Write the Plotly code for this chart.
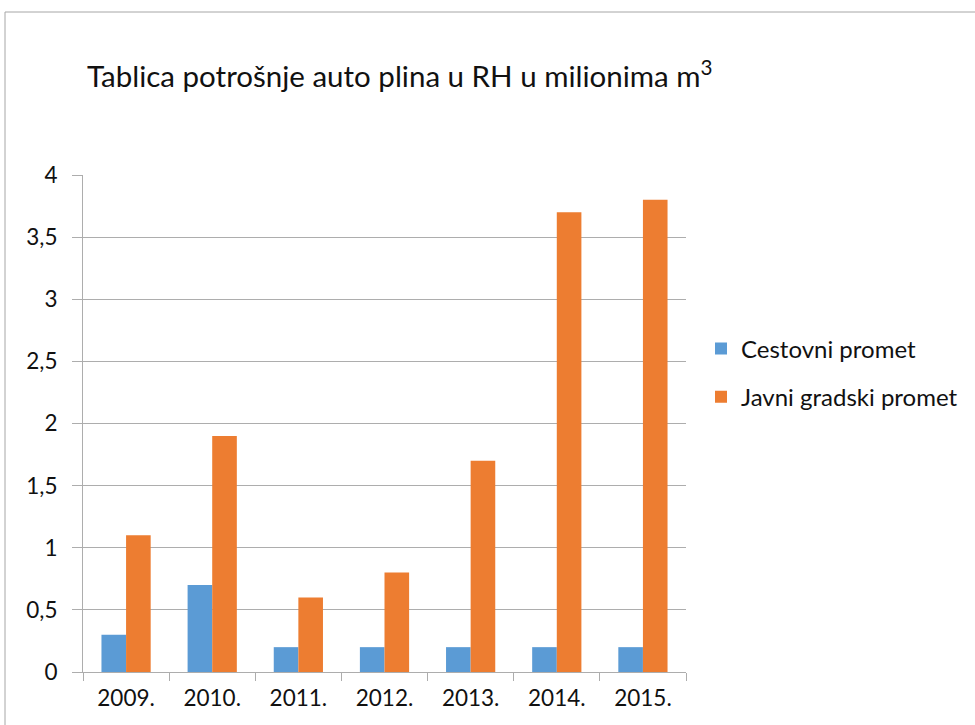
import plotly.graph_objects as go

years = ["2009.", "2010.", "2011.", "2012.", "2013.", "2014.", "2015."]
cestovni = [0.3, 0.7, 0.2, 0.2, 0.2, 0.2, 0.2]
javni = [1.1, 1.9, 0.6, 0.8, 1.7, 3.7, 3.8]
series_names = ["Cestovni promet", "Javni gradski promet"]
title_text = "Tablica potrošnje auto plina u RH u milionima m<sup>3</sup>"

W, H = 975, 725
L, R, T, B = 83, 686, 175, 672
pw, ph = R - L, B - T

def px_x(p):
    return (p - L) / pw

def px_y(p):
    return (B - p) / ph

FONT = "Lato"
grid = "#ADADAD"
txt = "#111111"

fig = go.Figure()
fig.add_trace(go.Bar(x=years, y=cestovni, name=series_names[0],
                     marker=dict(color="#5B9BD5", line=dict(width=0)),
                     legendgroup="a"))
fig.add_trace(go.Bar(x=years, y=javni, name=series_names[1],
                     marker=dict(color="#ED7D31", line=dict(width=0)),
                     legendgroup="b"))

fig.update_layout(
    width=W, height=H,
    margin=dict(l=L, r=W - R, t=T, b=H - B, autoexpand=False),
    paper_bgcolor="white", plot_bgcolor="white",
    separators=", ",
    barmode="group", bargap=0.4286, bargroupgap=0,
    font=dict(family=FONT, size=22, color=txt),
    title=dict(text=title_text, xref="container", yref="container",
               x=87 / W, xanchor="left", y=1 - 77 / H,
               yanchor="middle",
               font=dict(family=FONT, size=29.5, color=txt)),
    legend=dict(x=px_x(701), xanchor="left", y=px_y(373), yanchor="middle",
                font=dict(family=FONT, size=24, color=txt),
                traceorder="grouped", tracegroupgap=14,
                bgcolor="rgba(0,0,0,0)", itemwidth=30),
    xaxis=dict(showgrid=False, showline=True, linecolor=grid, linewidth=1,
               ticks="outside", tickson="boundaries", ticklen=8,
               tickcolor=grid, ticklabelstandoff=6,
               tickfont=dict(family=FONT, size=22.5, color=txt)),
    yaxis=dict(range=[0, 4], dtick=0.5, tick0=0, showgrid=True,
               gridcolor=grid, gridwidth=1, showline=True, linecolor=grid,
               linewidth=1, ticks="outside", ticklen=10, tickcolor=grid,
               zeroline=False, ticklabelstandoff=10,
               tickfont=dict(family=FONT, size=22.5, color=txt)),
)

fig.add_shape(type="rect", xref="paper", yref="paper",
              x0=px_x(5), x1=px_x(1100), y0=px_y(12), y1=px_y(900),
              line=dict(color="#A6A6A6", width=1), fillcolor="rgba(0,0,0,0)",
              layer="below")

fig.write_html("out.html",
               config={"displayModeBar": False},
               post_script="document.body.style.margin='0';"
                           "document.body.style.overflow='hidden';")
